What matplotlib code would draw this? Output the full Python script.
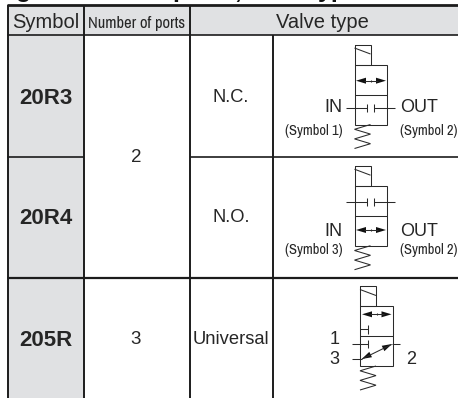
import matplotlib
matplotlib.use("Agg")
import matplotlib.pyplot as plt
from matplotlib.patches import Rectangle, Polygon

plt.rcParams['font.family'] = ['Liberation Sans', 'DejaVu Sans']
NARROW = ['Archivo Narrow', 'Liberation Sans']

headers = ["Symbol", "Number of ports", "Valve type"]
models = ["20R3", "20R4", "205R"]
ports = ["2", "3"]
valve_types = ["N.C.", "N.O.", "Universal"]
title_fragments = ["g", "p", ",", "yp"]

W, H = 458, 398
INK = "#1c1c1c"
GREY = "#e0e1e3"
TC = "#262626"

fig = plt.figure(figsize=(W/100, H/100), dpi=100)
ax = fig.add_axes([0, 0, 1, 1])
ax.set_xlim(0, W); ax.set_ylim(H, 0); ax.axis("off")

def line(xs, ys, lw=0.75, c="#2a2a2a"):
    ax.plot(xs, ys, color=c, lw=lw, solid_capstyle="butt", solid_joinstyle="miter")

ax.add_patch(Rectangle((8, 5), 450, 30, fc=GREY, ec="none"))
ax.add_patch(Rectangle((8, 35), 76, 363, fc=GREY, ec="none"))

for s, x in zip(title_fragments, [24, 180, 238, 332]):
    ax.text(x, -2.5, s, fontsize=18, fontweight="bold", ha="center", va="baseline", color="#111111")

line([7, W], [5.3, 5.3], lw=2.0, c=INK)
line([7, W], [35, 35], lw=1.2, c=INK)
line([7, 84], [156.7, 156.7], lw=1.2, c=INK)
line([190, W], [156.7, 156.7], lw=1.2, c=INK)
line([7, W], [277.5, 277.5], lw=1.6, c=INK)
for x, y0 in [(7.8, 5), (84, 5), (190, 5), (273, 35)]:
    line([x, x], [y0, H], lw=1.4, c=INK)

ax.text(45.5, 28, headers[0], fontsize=14.5, ha="center", va="baseline", color=TC)
ax.text(136.5, 28, headers[1], fontsize=11.9, ha="center", va="baseline", color=TC, family=NARROW)
ax.text(322, 28, headers[2], fontsize=14.5, ha="center", va="baseline", color=TC)

for m, y in zip(models, [98, 219, 340]):
    ax.text(45.5, y, m, fontsize=16, fontweight="bold", ha="center", va="center", color=TC)
for t, y in zip(valve_types, [97, 218, 340]):
    ax.text(231, y, t, fontsize=13.2, ha="center", va="center", color=TC)
ax.text(136, 157, ports[0], fontsize=13.5, ha="center", va="center", color=TC)
ax.text(136, 340, ports[1], fontsize=13.5, ha="center", va="center", color=TC)

def rect(x0, y0, x1, y1):
    line([x0, x1, x1, x0, x0], [y0, y0, y1, y1, y0])

def head(tipx, tipy, dx, dy, size=10, half=3):
    n = (dx*dx + dy*dy) ** 0.5
    ux, uy = dx/n, dy/n
    bx, by = tipx - ux*size, tipy - uy*size
    ax.add_patch(Polygon([(tipx, tipy), (bx - uy*half, by + ux*half), (bx + uy*half, by - ux*half)],
                         closed=True, fc="#111111", ec="none"))

def spring(x0, x1, y0, y1, n=5):
    step = (y1 - y0) / n
    xs = [x1 if i % 2 == 0 else x0 for i in range(n + 1)]
    yy = [y0 + i * step for i in range(n + 1)]
    line(xs, yy)

def tee(x, y, h, xend):
    line([x, xend], [y, y]); line([x, x], [y - h, y + h])

def valve(x0, top):
    rect(x0, top, x0 + 16, top + 20)
    line([x0, x0 + 16], [top + 3.5, top + 9.5])
    y1 = top + 20
    rect(x0, y1, x0 + 32.5, y1 + 60)
    line([x0, x0 + 32.5], [y1 + 30] * 2)
    spring(x0, x0 + 16, y1 + 60, y1 + 84)

def double_arrow(x0, x1, y):
    line([x0 + 8, x1 - 8], [y, y])
    head(x0, y, -1, 0); head(x1, y, 1, 0)
    mid = (x0 + x1) / 2
    line([mid, mid], [y - 1, y + 1])

valve(354.5, 44.5)
double_arrow(356, 386, 80.7)
tee(366.5, 107.7, 4, 346); tee(374, 107.7, 4, 395)

valve(354.5, 165.7)
double_arrow(356, 386, 230)
tee(366.5, 201.7, 4, 346); tee(374, 201.7, 4, 395)

valve(360, 286)
double_arrow(362, 391.5, 314.3)
tee(368.3, 329.3, 4.2, 360)
line([368.3, 368.3], [340, 348.3]); line([351.7, 368.3], [344, 344])
line([352, 362], [359, 359]); line([392.3, 400], [344, 344])
line([362, 391.5], [359, 344.5])
head(361.7, 359, -30, 15); head(392, 344, 30, -15)

for y1, y2, sym in [(107.5, 131, "(Symbol 1)"), (231, 250, "(Symbol 3)")]:
    ax.text(342.5, y1, "IN", fontsize=13, ha="right", va="center", color=TC)
    ax.text(400, y1, "OUT", fontsize=13, ha="left", va="center", color=TC)
    ax.text(342.5, y2, sym, fontsize=10.4, ha="right", va="center", color=TC, family=NARROW)
    ax.text(400, y2, "(Symbol 2)", fontsize=10.4, ha="left", va="center", color=TC, family=NARROW)

ax.text(334.5, 339.5, "1", fontsize=13, ha="center", va="center", color=TC)
ax.text(334.5, 360, "3", fontsize=13, ha="center", va="center", color=TC)
ax.text(411.5, 360, "2", fontsize=13, ha="center", va="center", color=TC)

fig.savefig("out.png", dpi=100)
